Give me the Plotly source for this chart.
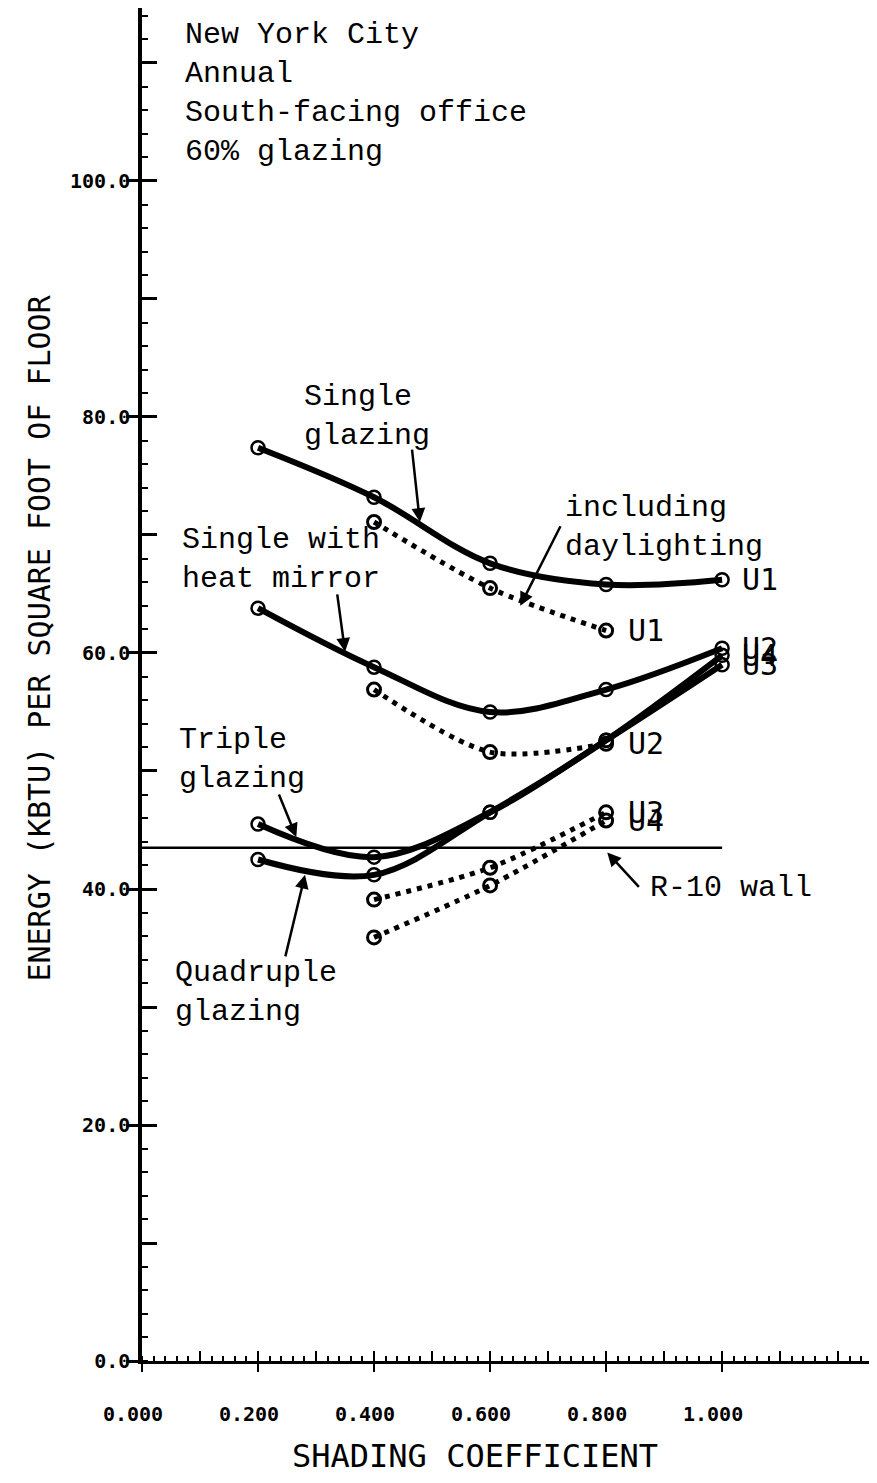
import plotly.graph_objects as go

# ---- data ----
shading = [0.2, 0.4, 0.6, 0.8, 1.0]
single = [77.4, 73.2, 67.6, 65.8, 66.2]
mirror = [63.8, 58.8, 55.0, 56.9, 60.4]
triple = [45.5, 42.7, 46.5, 52.6, 59.0]
quad = [42.5, 41.2, 46.5, 52.6, 59.8]

day_shading = [0.4, 0.6, 0.8]
single_day = [71.1, 65.5, 61.9]
mirror_day = [56.9, 51.6, 52.3]
triple_day = [39.1, 41.8, 46.5]
quad_day = [35.9, 40.3, 45.8]

u_labels = ["U1", "U2", "U3", "U4"]

r10_wall = 43.5
r10_span = [0.0, 1.0]

x_tickvals = [0.0, 0.2, 0.4, 0.6, 0.8, 1.0]
x_ticktext = ["0.000", "0.200", "0.400", "0.600", "0.800", "1.000"]
y_tickvals = [0, 20, 40, 60, 80, 100]
y_ticktext = ["0.0", "20.0", "40.0", "60.0", "80.0", "100.0"]

MONO = "Liberation Mono, Courier New, monospace"
SANSMONO = "DejaVu Sans Mono, monospace"

fig = go.Figure()

solid_series = [single, mirror, triple, quad]
for ys in solid_series:
    fig.add_trace(go.Scatter(
        x=shading, y=ys, mode="lines+markers",
        line=dict(color="black", width=6, shape="spline", smoothing=1.0),
        marker=dict(symbol="circle-open", size=13, color="black", line=dict(width=2.5)),
        showlegend=False, hoverinfo="skip",
    ))

dot_series = [single_day, mirror_day, triple_day, quad_day]
for ys in dot_series:
    fig.add_trace(go.Scatter(
        x=day_shading, y=ys, mode="lines+markers",
        line=dict(color="black", width=5, shape="spline", smoothing=0.8, dash="5px,6px"),
        marker=dict(symbol="circle-open", size=13, color="black", line=dict(width=3)),
        showlegend=False, hoverinfo="skip",
    ))

# R-10 wall reference line
fig.add_trace(go.Scatter(
    x=r10_span, y=[r10_wall, r10_wall], mode="lines",
    line=dict(color="black", width=2.5), showlegend=False, hoverinfo="skip",
))

# dummy trace to realise the overlay axes (for crossing tick marks)
fig.add_trace(go.Scatter(x=[None], y=[None], xaxis="x2", yaxis="y2",
                         showlegend=False, hoverinfo="skip"))

XR = [0.0, 1.267]
YR = [0.0, 114.66]

# the page body has an 8px margin, so the figure is sized to fit the window
fig.update_layout(
    width=869, height=1475,
    margin=dict(l=134, r=0, t=0, b=122),
    paper_bgcolor="white", plot_bgcolor="white",
    xaxis=dict(
        range=XR, showgrid=False, zeroline=False, automargin=False,
        showline=True, linecolor="black", linewidth=3,
        ticks="outside", ticklen=8, tickwidth=2, tickcolor="black",
        tickvals=x_tickvals, ticktext=x_ticktext,
        tickfont=dict(family=SANSMONO, size=20, color="black", weight="bold"),
        ticklabelstandoff=25, ticklabelshift=-9,
        minor=dict(dtick=0.02, tick0=0, ticks="inside", ticklen=5, tickwidth=1.5, tickcolor="black"),
    ),
    yaxis=dict(
        range=YR, showgrid=False, zeroline=False, automargin=False,
        showline=True, linecolor="black", linewidth=3.5,
        ticks="outside", ticklen=12, tickwidth=2.5, tickcolor="black",
        tickvals=y_tickvals, ticktext=y_ticktext,
        tickfont=dict(family=SANSMONO, size=20, color="black", weight="bold"),
        ticklabelstandoff=-8,
        minor=dict(dtick=2, tick0=0, ticks="inside", ticklen=6, tickwidth=2, tickcolor="black"),
    ),
    xaxis2=dict(
        range=XR, overlaying="x", anchor="y2", showgrid=False, zeroline=False,
        showline=False, ticks="inside", ticklen=10, tickwidth=2, tickcolor="black",
        dtick=0.1, tick0=0, showticklabels=False, automargin=False,
    ),
    yaxis2=dict(
        range=YR, overlaying="y", anchor="x2", showgrid=False, zeroline=False,
        showline=False, ticks="inside", ticklen=15, tickwidth=2.5, tickcolor="black",
        dtick=10, tick0=0, showticklabels=False, automargin=False,
    ),
    font=dict(family=MONO, color="black"),
)

# end-of-curve U-value labels
for ys, lab in zip(solid_series, u_labels):
    fig.add_annotation(
        text=lab, x=shading[-1], y=ys[-1], xref="x", yref="y", showarrow=False,
        xanchor="left", yanchor="middle", xshift=18,
        font=dict(family=SANSMONO, size=30, color="black"),
    )
for ys, lab in zip(dot_series, u_labels):
    fig.add_annotation(
        text=lab, x=day_shading[-1], y=ys[-1], xref="x", yref="y", showarrow=False,
        xanchor="left", yanchor="middle", xshift=20,
        font=dict(family=SANSMONO, size=30, color="black"),
    )

# axis titles
fig.add_annotation(
    text="ENERGY (KBTU) PER SQUARE FOOT OF FLOOR", textangle=-90,
    xref="paper", yref="paper", x=-0.14, y=0.534, showarrow=False,
    xanchor="center", yanchor="middle",
    font=dict(family=SANSMONO, size=30, color="black"),
)
fig.add_annotation(
    text="SHADING COEFFICIENT",
    xref="paper", yref="paper", x=0.453, y=-0.070, showarrow=False,
    xanchor="center", yanchor="middle",
    font=dict(family=SANSMONO, size=32, color="black"),
)

# text notes
notes = [
    ("New York City<br>Annual<br>South-facing office<br>60% glazing", 0.071, 107.4),
    ("Single<br>glazing", 0.276, 80.0),
    ("including<br>daylighting", 0.726, 70.6),
    ("Single with<br>heat mirror", 0.066, 67.9),
    ("Triple<br>glazing", 0.060, 51.0),
    ("Quadruple<br>glazing", 0.053, 31.2),
    ("R-10 wall", 0.872, 40.1),
]
for txt, x, y in notes:
    fig.add_annotation(
        text=txt, x=x, y=y, xref="x", yref="y", showarrow=False,
        xanchor="left", yanchor="middle", align="left",
        font=dict(family=MONO, size=30, color="black"),
    )

# pointer arrows: (head x, head y, tail offset ax, ay in px)
arrows = [
    (0.479, 71.1, -8, -74),
    (0.652, 64.0, 41, -81),
    (0.350, 60.1, -8, -59),
    (0.266, 44.4, -18, -44),
    (0.281, 41.2, -20, 83),
    (0.802, 43.1, 33, 36),
]
for x, y, ax, ay in arrows:
    fig.add_annotation(
        x=x, y=y, xref="x", yref="y", ax=ax, ay=ay, text="",
        showarrow=True, arrowhead=2, arrowsize=1.1, arrowwidth=2.5, arrowcolor="black",
    )

fig.write_html("out.html")
